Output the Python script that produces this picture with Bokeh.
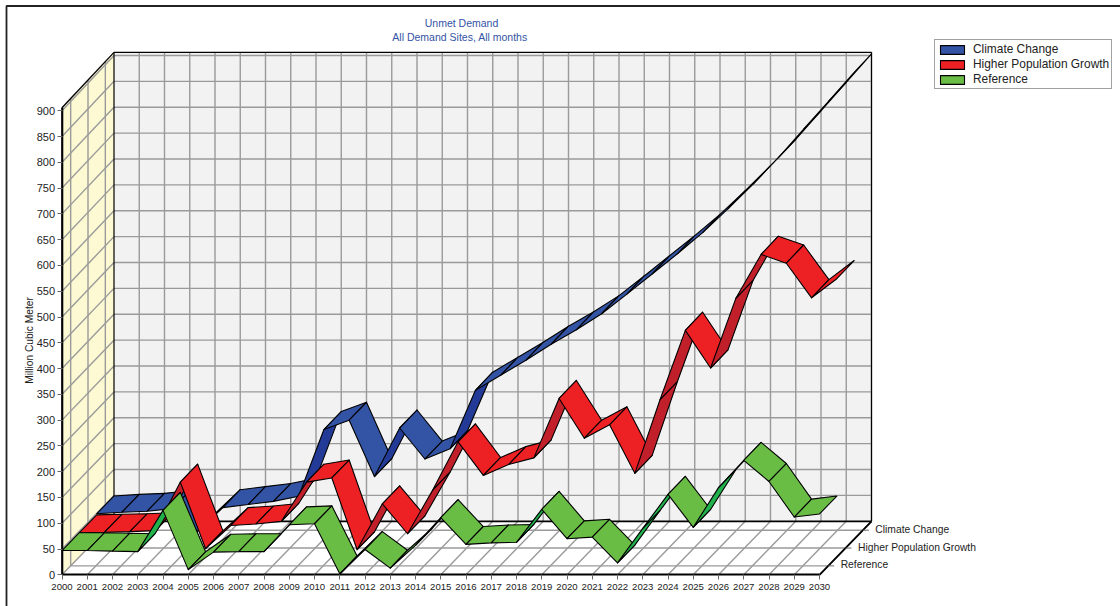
from math import pi

from bokeh.core.properties import value
from bokeh.embed import file_html
from bokeh.models import ColumnDataSource, FixedTicker, Legend, LegendItem, Range1d
from bokeh.plotting import figure
from bokeh.resources import INLINE

# Unmet demand per scenario, million cubic metres
years = list(range(2000, 2031))
climate_change = [49, 52, 54, 59, 15, 61, 67, 73, 83, 212, 230, 121, 215, 155, 175, 288,
                  317, 346, 377, 405, 436, 474, 513, 552, 593, 639, 687, 738, 793, 848, 903]
higher_population = [47, 48, 49, 51, 145, 16, 61, 64, 69, 145, 153, 14, 103, 45, 130, 223,
                     158, 179, 192, 307, 230, 256, 162, 305, 439, 366, 501, 586, 569, 502, 539]
reference = [47, 47, 46, 45, 125, 10, 44, 45, 45, 97, 99, 2, 49, 13, 57, 111,
             59, 62, 63, 127, 70, 73, 23, 90, 156, 92, 169, 222, 181, 112, 118]

scenario_names = ["Climate Change", "Higher Population Growth", "Reference"]
top_colors = ["#3353a4", "#ed2024", "#69bd45"]
under_colors = ["#233b96", "#c1202b", "#22b14c"]
value_ticks = list(range(0, 901, 50))

# Canvas scale and the oblique offset between the front and back planes
PX_PER_YEAR = 25.25
PX_PER_UNIT = 0.5156
DEPTH_X_PX = 52.0
DEPTH_Y_PX = 53.5
DEPTH_Y_FLARE_PX = 1.8  # extra depth offset at the top of the value range
ORIGIN_X = 61.5
ORIGIN_Y = 574.3
WIDTH, HEIGHT = 1120, 606
VALUE_TOP = 906
LANES = 3

p = figure(
    width=WIDTH, height=HEIGHT, output_backend="svg", toolbar_location=None,
    x_range=Range1d(2000 - ORIGIN_X / PX_PER_YEAR, 2000 + (WIDTH - ORIGIN_X) / PX_PER_YEAR),
    y_range=Range1d((ORIGIN_Y - HEIGHT) / PX_PER_UNIT, ORIGIN_Y / PX_PER_UNIT),
    min_border=0, outline_line_color=None, background_fill_color="white",
    x_axis_location="below", y_axis_location="left",
)
p.grid.visible = False


def proj(year, val, depth):
    """Oblique projection: depth runs from 0 (front) to 1 (back wall)."""
    lift = DEPTH_Y_PX + DEPTH_Y_FLARE_PX * val / VALUE_TOP
    return (year + depth * DEPTH_X_PX / PX_PER_YEAR, val + depth * lift / PX_PER_UNIT)


def canvas(x, y):
    """Data position of a canvas pixel, for annotations placed by layout."""
    return (2000 + (x - ORIGIN_X) / PX_PER_YEAR, (ORIGIN_Y - y) / PX_PER_UNIT)


def poly(points, **kw):
    xs, ys = zip(*points)
    p.patch(list(xs), list(ys), **kw)


def rule(a, b, color="#9a9a9a", width=1.4):
    p.line([a[0], b[0]], [a[1], b[1]], line_color=color, line_width=width)


y0, y1 = years[0], years[-1]

# Walls and floor
poly([proj(y0, 0, 1), proj(y1, 0, 1), proj(y1, VALUE_TOP, 1), proj(y0, VALUE_TOP, 1)],
     fill_color="#f2f2f2", line_color=None)
poly([proj(y0, 0, 0), proj(y0, 0, 1), proj(y0, VALUE_TOP, 1), proj(y0, VALUE_TOP, 0)],
     fill_color="#fdf9d3", line_color=None)
poly([proj(y0, 0, 0), proj(y1, 0, 0), proj(y1, 0, 1), proj(y0, 0, 1)],
     fill_color="white", line_color=None)

# Grid on the walls and the floor
for v in value_ticks[1:]:
    rule(proj(y0, v, 0), proj(y0, v, 1))
    rule(proj(y0, v, 1), proj(y1, v, 1))
for yr in years:
    rule(proj(yr, 0, 0), proj(yr, 0, 1))
    if yr > y0:
        rule(proj(yr, 0, 1), proj(yr, VALUE_TOP, 1))
lane_centres = [(i + 0.5) / LANES for i in range(LANES)]
for d in lane_centres:
    rule(proj(y0, 0, d), proj(y1, 0, d))
    rule(proj(y0, 0, d), proj(y0, VALUE_TOP, d))

# Box edges
for a, b, w in [
    (proj(y0, 0, 1), proj(y1, 0, 1), 1.8),
    (proj(y0, 0, 1), proj(y0, VALUE_TOP, 1), 1.2),
    (proj(y0, VALUE_TOP, 1), proj(y1, VALUE_TOP, 1), 1.2),
    (proj(y1, 0, 1), proj(y1, VALUE_TOP, 1), 1.2),
    (proj(y0, VALUE_TOP, 0), proj(y0, VALUE_TOP, 1), 1.4),
    (proj(y0, 0, 0), proj(y0, VALUE_TOP, 0), 1.6),
    (proj(y1, 0, 0), proj(y1, 0, 1), 1.8),
]:
    rule(a, b, color="#000000", width=w)

# Ribbons, back lane first and left to right within a lane
series = [climate_change, higher_population, reference]
legend_items = []
edge_rise = PX_PER_YEAR * DEPTH_Y_PX / DEPTH_X_PX
for lane, values in enumerate(series):
    near = (LANES - 1 - lane) / LANES
    far = (LANES - lane) / LANES
    xs, ys, fills = [], [], []
    for i in range(len(years) - 1):
        a, b = values[i], values[i + 1]
        corners = [proj(years[i], a, near), proj(years[i + 1], b, near),
                   proj(years[i + 1], b, far), proj(years[i], a, far)]
        xs.append([c[0] for c in corners])
        ys.append([c[1] for c in corners])
        fills.append(under_colors[lane] if (b - a) * PX_PER_UNIT > edge_rise else top_colors[lane])
    r = p.patches("xs", "ys", source=ColumnDataSource(dict(xs=xs, ys=ys, fill=fills)),
                  fill_color="fill", line_color="#000000", line_width=1.1, line_join="round")
    legend_items.append(LegendItem(label=scenario_names[lane], renderers=[r], index=0))

# Value and year axes pinned to the front plane
p.xaxis.fixed_location = 0
p.yaxis.fixed_location = 2000
p.xaxis.bounds = (y0, y1)
p.yaxis.bounds = (0, VALUE_TOP)
p.xaxis.ticker = FixedTicker(ticks=years)
p.yaxis.ticker = FixedTicker(ticks=value_ticks)
for ax in (p.xaxis[0], p.yaxis[0]):
    ax.major_label_text_font = "Liberation Sans"
    ax.major_label_text_color = "#222222"
    ax.major_tick_in = 0
    ax.major_tick_out = 5
    ax.minor_tick_line_color = None
    ax.major_tick_line_color = "#666666"
    ax.axis_line_color = "#000000"
p.xaxis.major_label_text_font_size = "9.6px"
p.yaxis.major_label_text_font_size = "11px"
p.xaxis.axis_line_width = 2
p.yaxis.axis_line_width = 1.6
p.xaxis.major_label_standoff = 4
p.yaxis.major_label_standoff = 2

# Scenario ticks and names along the right edge of the floor
for d, name in zip(reversed(lane_centres), scenario_names):
    start = proj(y1, 0, d)
    rule(start, (start[0] + 6 / PX_PER_YEAR, start[1]), color="#666666", width=1)
    p.text([start[0] + 12.5 / PX_PER_YEAR], [start[1] + 1 / PX_PER_UNIT], text=[name],
           text_align="left", text_baseline="middle", text_font=value("Liberation Sans"),
           text_font_size="10.3px", text_color="#222222")

# Heading and value-axis title
heading_color = "#3353a4"
for (cx, cy), line in zip([canvas(461, 22.5), canvas(461, 36.5)],
                          ["Unmet Demand", "All Demand Sites,  All months"]):
    p.text([cx], [cy], text=[line], text_align="center", text_baseline="middle",
           text_font=value("Liberation Sans"), text_font_size="10.5px", text_color=heading_color)
lx, ly = canvas(28.5, 340)
p.text([lx], [ly], text=["Million Cubic Meter"], angle=pi / 2, text_align="center",
       text_baseline="middle", text_font=value("Liberation Sans"), text_font_size="10.2px",
       text_color="#222222")

# Page frame
corner_a, corner_b, corner_c = canvas(6, 606), canvas(6, 5.5), canvas(1120, 5.5)
p.line([corner_a[0], corner_b[0], corner_c[0]], [corner_a[1], corner_b[1], corner_c[1]],
       line_color="#222222", line_width=1.8)

legend = Legend(items=legend_items, location=(934, HEIGHT - 89), orientation="vertical",
                border_line_color="#444444", border_line_width=1, background_fill_alpha=1,
                label_text_font="Liberation Sans", label_text_font_size="11.9px",
                label_text_color="#222222", glyph_width=30, glyph_height=11,
                label_standoff=6, spacing=1, padding=2, margin=0, label_height=11)
p.add_layout(legend, "center")

open("out.html", "w").write(file_html(p, INLINE))
